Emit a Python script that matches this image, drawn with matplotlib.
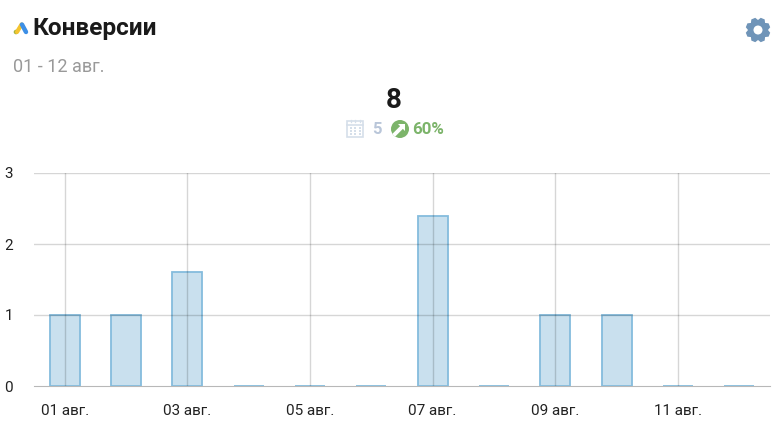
import numpy as np
import matplotlib
matplotlib.use("Agg")
import matplotlib.pyplot as plt
from matplotlib.patches import Circle, Rectangle, Polygon

plt.rcParams['font.family'] = ['Roboto', 'DejaVu Sans']

W, H = 784, 422

title = "Конверсии"
subtitle = "01 - 12 авг."
total = "8"
previous = "5"
change = "60%"
days = ["01 авг.", "02 авг.", "03 авг.", "04 авг.", "05 авг.", "06 авг.",
        "07 авг.", "08 авг.", "09 авг.", "10 авг.", "11 авг.", "12 авг."]
values = [1, 1, 1.6, 0, 0, 0, 2.4, 0, 1, 1, 0, 0]
y_ticks = [0, 1, 2, 3]

fig = plt.figure(figsize=(W / 100, H / 100), dpi=100)

# plot area in pixels: x 34-770, y 173-386
ax = fig.add_axes([34 / W, 1 - 386 / H, 736 / W, 213 / H])
x = np.arange(len(days))
ax.bar(x, values, width=0.49, color="#c9e0ee", edgecolor="#85bcdd", linewidth=1.3, zorder=2)
ax.set_xlim(-0.5, 11.5)
ax.set_ylim(0, 3)
ax.set_yticks(y_ticks)
ax.set_xticks(x[::2])
ax.set_xticklabels(days[::2])
ax.grid(True, color="#000000", alpha=0.16, linewidth=1, zorder=3)
ax.set_axisbelow(False)
ax.get_ygridlines()[0].set_visible(False)
ax.tick_params(length=0, labelsize=11, labelcolor="#222222")
ax.tick_params(axis="x", pad=13)
ax.tick_params(axis="y", pad=15)
for label in ax.get_yticklabels():
    label.set_y(-0.005)
for name, sp in ax.spines.items():
    sp.set_visible(name == "bottom")
ax.spines["bottom"].set_color("#b8b8b8")
ax.spines["bottom"].set_zorder(1)

# overlay in pixel coordinates for header texts and icons
ov = fig.add_axes([0, 0, 1, 1])
ov.set_xlim(0, W)
ov.set_ylim(H, 0)
ov.axis("off")
ov.patch.set_alpha(0)

ov.text(32.5, 29, title, fontsize=17.6, fontweight="bold", color="#1a1a1a", va="center", ha="left")
ov.text(13, 67.5, subtitle, fontsize=13, color="#999999", va="center", ha="left")
ov.text(394, 100.5, total, fontsize=20, fontweight="bold", color="#1a1a1a", va="center", ha="center")
ov.text(372, 129, previous, fontsize=12, fontweight="bold", color="#b9c6d9", va="center", ha="left")
ov.text(412, 129, change, fontsize=12.2, fontweight="bold", color="#7cb46a", va="center", ha="left")

# ads logo
ov.plot([21.5, 17], [24.5, 32], color="#f4c430", lw=3, solid_capstyle="round")
ov.plot([22, 26], [24.5, 32], color="#3d8fe6", lw=3.2, solid_capstyle="round")
ov.add_patch(Circle((16, 32), 2.3, color="#a4b43c", lw=0))

# calendar icon
ov.add_patch(Rectangle((347.5, 121), 16, 16, fc="white", ec="#d5dfea", lw=1.2))
ov.plot([347.5, 363.5], [124.5, 124.5], color="#d5dfea", lw=1.2)
for cx in [351, 355.5, 360]:
    ov.plot([cx, cx], [119.5, 122], color="#d5dfea", lw=0.9)
    for cy in [127.5, 130.5, 133.5]:
        ov.add_patch(Rectangle((cx - 1, cy - 1), 2, 2, color="#d5dfea", lw=0))

# green arrow badge
ov.add_patch(Circle((400, 129), 9, color="#7cb46a", lw=0))
ov.plot([395, 402], [134, 127], color="white", lw=2.8)
ov.add_patch(Polygon([[398.5, 124], [405, 124], [405, 130.5]], color="white", lw=0))

# gear icon
gx, gy = 758, 30
ang = np.linspace(0, 2 * np.pi, 8, endpoint=False) + np.pi / 8
gear = []
for a in ang:
    gear += [(gx + 12.5 * np.cos(a + s), gy + 12.5 * np.sin(a + s)) for s in (-0.17, 0.17)]
    gear += [(gx + 10 * np.cos(a + s), gy + 10 * np.sin(a + s)) for s in (0.39,)]
ov.add_patch(Polygon(gear, color="#6f94b8", lw=0))
ov.add_patch(Circle((gx, gy), 4.5, color="white", lw=0))

fig.savefig("out.png", dpi=100, facecolor="white")
